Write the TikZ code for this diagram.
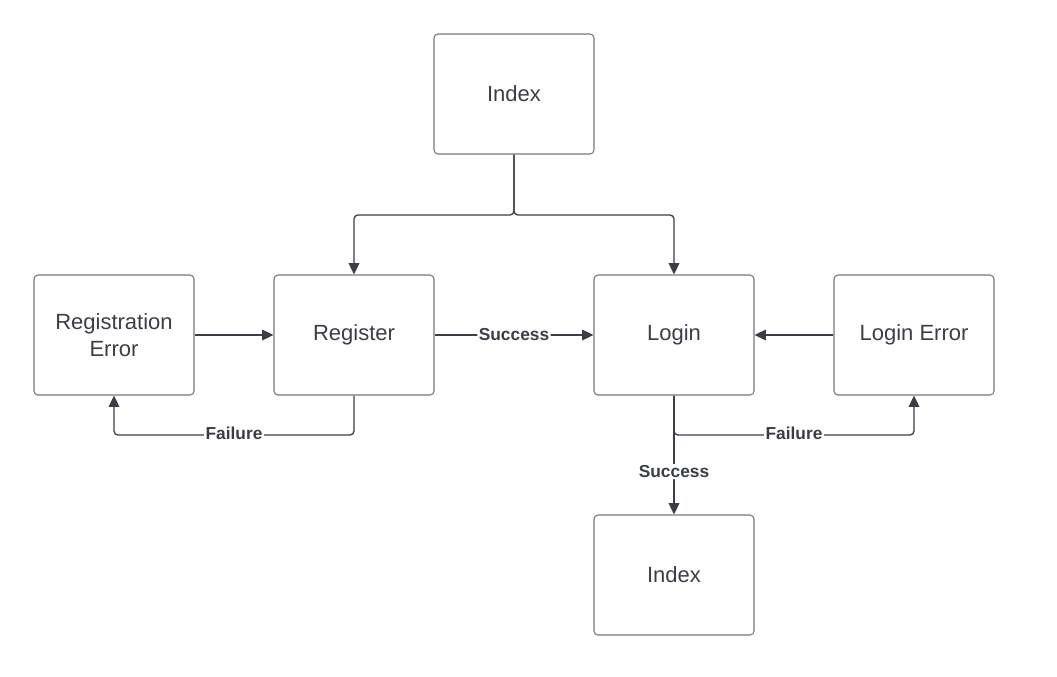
\documentclass[tikz,border=0pt]{standalone}
\usepackage{fontspec}
\setmainfont{Liberation Sans}
\usetikzlibrary{arrows.meta,positioning}
\definecolor{inkgray}{RGB}{58, 62, 70}
\definecolor{edgegray}{RGB}{120, 120, 124}
\tikzset{
  page/.style={x=0.75pt, y=-0.75pt},
  pagebox/.style={
    draw=edgegray, line width=0.8pt, rounded corners=3pt,
    minimum width=120pt, minimum height=90pt,
    align=center, font=\fontsize{16.5}{20.5}\selectfont, text=inkgray,
  },
  flow/.style={
    -{Triangle[length=8.5pt,width=8pt]},
    draw=inkgray, line width=1pt, rounded corners=3pt,
  },
  tag/.style={
    fill=white, inner sep=1pt,
    font=\bfseries\fontsize{13}{15}\selectfont, text=inkgray,
  },
}

\begin{document}
\begin{tikzpicture}[page]

        \useasboundingbox (0,0) rectangle (1057,676);

        % Pages
        \node [pagebox] (indexTop) at (514, 94) {Index};
        \node [pagebox] (regError) at (114, 335) {Registration\\Error};
        \node [pagebox] (register) at (354, 335) {Register};
        \node [pagebox] (login) at (674, 335) {Login};
        \node [pagebox] (loginError) at (914, 335) {Login Error};
        \node [pagebox] (indexBottom) at (674, 575) {Index};

        % From index
        \draw [flow] (indexTop.south) |- (434, 215) -| (register.north);
        \draw [flow] (indexTop.south) |- (594, 215) -| (login.north);

        % Errors back
        \draw [flow] (regError.east) -- (register.west);
        \draw [flow] (loginError.west) -- (login.east);

        % Success
        \draw [flow] (register.east) -- (login.west)
              node [tag, pos=0.5] {Success};
        \draw [flow] (login.south) -- (indexBottom.north)
              node [tag, pos=0.64] {Success};

        % Failure
        \draw [flow] (register.south) |- (234, 435) -| (regError.south);
        \node [tag] at (234, 433) {Failure};
        \draw [flow] (login.south) |- (794, 435) -| (loginError.south);
        \node [tag] at (794, 433) {Failure};
      \end{tikzpicture}
\end{document}
